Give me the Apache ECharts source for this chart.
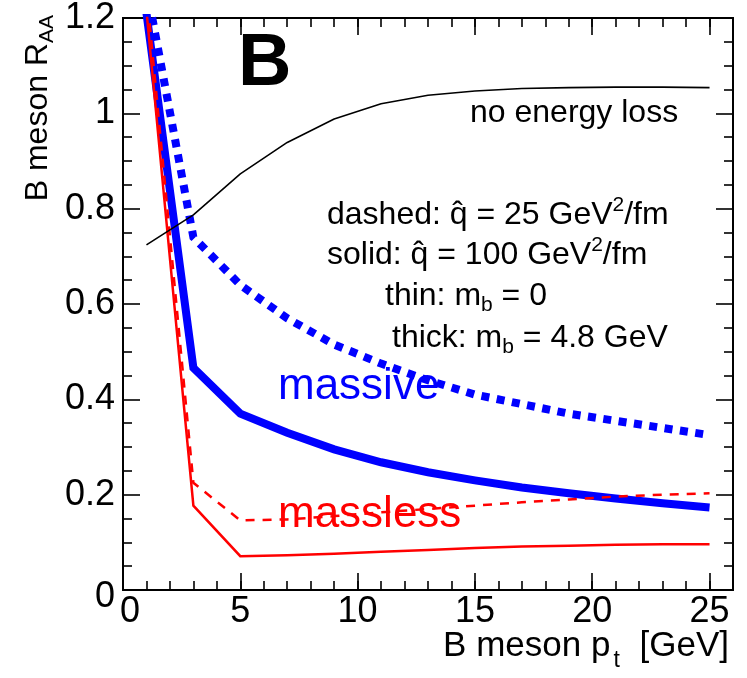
<!DOCTYPE html>
<html>
<head>
<meta charset="utf-8">
<title>B meson R_AA</title>
<script src="https://cdn.jsdelivr.net/npm/echarts@6/dist/echarts.min.js"></script>
<style>
  html, body { margin: 0; padding: 0; background: #fff; }
  #chart { width: 747px; height: 678px; }
</style>
</head>
<body>
<div id="chart"></div>
<script>
// Transverse momentum grid [GeV]
const ptValues = [1, 3, 5, 7, 9, 11, 13, 15, 17, 19, 21, 23, 25];

// Reference curve without energy loss
const noEnergyLoss = [0.724, 0.787, 0.873, 0.939, 0.988, 1.020, 1.038, 1.047, 1.052, 1.054, 1.055, 1.055, 1.054];

// Massive b quark (m_b = 4.8 GeV)
const massiveQhat100 = [1.21, 0.466, 0.370, 0.330, 0.295, 0.268, 0.247, 0.230, 0.215, 0.203, 0.192, 0.182, 0.173];
const massiveQhat25 = [1.265, 0.740, 0.640, 0.570, 0.515, 0.475, 0.440, 0.410, 0.390, 0.370, 0.355, 0.340, 0.325];

// Massless b quark (m_b = 0)
const masslessQhat100 = [1.215, 0.177, 0.071, 0.073, 0.076, 0.080, 0.084, 0.088, 0.091, 0.093, 0.095, 0.096, 0.096];
const masslessQhat25 = [1.26, 0.225, 0.146, 0.148, 0.155, 0.163, 0.170, 0.177, 0.184, 0.190, 0.196, 0.200, 0.203];

// Axis ranges and ticks
const xRange = [0, 26];
const yRange = [0, 1.2];
const xMajorStep = 5;
const xMinorStep = 1;
const yMajorStep = 0.2;

const FONT = 'Liberation Sans, Arial, Helvetica, sans-serif';
const BLUE = '#0000ff';
const RED = '#ff0000';

const pairs = (ys) => ptValues.map((x, i) => [x, ys[i]]);

const chart = echarts.init(document.getElementById('chart'), null, { renderer: 'canvas' });

const frameLine = { show: true, onZero: false, lineStyle: { color: '#000', width: 2 } };
const tickLine = { color: '#000', width: 1.6 };

function xAxisDef(position, step, tickLen, withLabels) {
  return {
    type: 'value', position: position, min: xRange[0], max: xRange[1], interval: step,
    axisLine: frameLine,
    axisTick: { show: true, inside: true, length: tickLen, lineStyle: tickLine },
    axisLabel: withLabels ? {
      show: true, margin: 4, fontSize: 36, color: '#000', fontFamily: FONT,
      formatter: (v) => (v === 0 ? '{zero|0}' : (v % xMajorStep === 0 ? String(v) : '')),
      rich: { zero: { fontSize: 36, fontFamily: FONT, padding: [0, 0, 0, 14] } }
    } : { show: false },
    splitLine: { show: false }
  };
}

function yAxisDef(position, withLabels) {
  return {
    type: 'value', position: position, min: yRange[0], max: yRange[1], interval: yMajorStep,
    axisLine: frameLine,
    axisTick: { show: true, inside: true, length: 17, lineStyle: tickLine },
    minorTick: { show: true, splitNumber: 4, length: 9, lineStyle: tickLine },
    axisLabel: withLabels ? {
      show: true, margin: 8, fontSize: 36, color: '#000', fontFamily: FONT,
      formatter: (v) => (v === 0 ? '{zero|0}' : String(Math.round(v * 10) / 10)),
      rich: { zero: { fontSize: 36, fontFamily: FONT, padding: [14, 0, 0, 0] } }
    } : { show: false },
    splitLine: { show: false }
  };
}

const textBase = { fontFamily: FONT, fontSize: 32, lineHeight: 40, fill: '#000' };
const rich = {
  sup: { fontFamily: FONT, fontSize: 21, lineHeight: 22, verticalAlign: 'top' },
  sub: { fontFamily: FONT, fontSize: 21, lineHeight: 22, verticalAlign: 'bottom' },
  subT: { fontFamily: FONT, fontSize: 23, lineHeight: 20, verticalAlign: 'bottom', padding: [0, 10, 0, 3] }
};

function label(text, x, y, extra) {
  return {
    type: 'text', x: x, y: y, z: 100,
    style: Object.assign({ text: text, rich: rich, verticalAlign: 'middle' }, textBase, extra || {})
  };
}

const option = {
  animation: false,
  backgroundColor: '#fff',
  grid: { left: 123, right: 14, top: 15, bottom: 88, containLabel: false },
  xAxis: [
    xAxisDef('bottom', xMajorStep, 17, true),
    xAxisDef('bottom', xMinorStep, 9, false),
    xAxisDef('top', xMajorStep, 17, false),
    xAxisDef('top', xMinorStep, 9, false)
  ],
  yAxis: [
    yAxisDef('left', true),
    yAxisDef('right', false)
  ],
  series: [
    {
      name: 'massive, qhat 25', type: 'line', data: pairs(massiveQhat25),
      showSymbol: false, symbol: 'none', clip: true,
      lineStyle: { color: BLUE, width: 8, type: [8, 7.5], cap: 'butt', join: 'miter' }
    },
    {
      name: 'massive, qhat 100', type: 'line', data: pairs(massiveQhat100),
      showSymbol: false, symbol: 'none', clip: true,
      lineStyle: { color: BLUE, width: 8, type: 'solid', cap: 'butt', join: 'miter' }
    },
    {
      name: 'massless, qhat 25', type: 'line', data: pairs(masslessQhat25),
      showSymbol: false, symbol: 'none', clip: true,
      lineStyle: { color: RED, width: 2.5, type: [9, 8], cap: 'butt', join: 'miter' }
    },
    {
      name: 'massless, qhat 100', type: 'line', data: pairs(masslessQhat100),
      showSymbol: false, symbol: 'none', clip: true,
      lineStyle: { color: RED, width: 2.5, type: 'solid', cap: 'butt', join: 'miter' }
    },
    {
      name: 'no energy loss', type: 'line', data: pairs(noEnergyLoss),
      showSymbol: false, symbol: 'none', clip: true,
      lineStyle: { color: '#000', width: 1.6, type: 'solid' }
    }
  ],
  graphic: [
    // panel letter
    label('B', 238, 65, { fontSize: 74, lineHeight: 80, fontWeight: 'bold' }),
    label('no energy loss', 470, 113),
    label('dashed: q\u0302 = 25 GeV{sup|2}/fm', 327, 215),
    label('solid: q\u0302 = 100 GeV{sup|2}/fm', 327, 255),
    label('thin: m{sub|b} = 0', 385, 296),
    label('thick: m{sub|b} = 4.8 GeV', 392, 338),
    label('massive', 278, 387, { fontSize: 44, lineHeight: 50, fill: BLUE }),
    label('massless', 278, 515, { fontSize: 44, lineHeight: 50, fill: RED }),
    // axis titles
    label('B meson p{subT|t} [GeV]', 729, 646, { align: 'right', fontSize: 35, lineHeight: 52 }),
    {
      type: 'text', x: 38, y: 15, rotation: Math.PI / 2, z: 100,
      style: Object.assign({ text: 'B meson R{sub|AA}', rich: rich, align: 'right', verticalAlign: 'middle' },
        textBase, { fontSize: 32 })
    }
  ]
};

chart.setOption(option);
</script>
</body>
</html>
